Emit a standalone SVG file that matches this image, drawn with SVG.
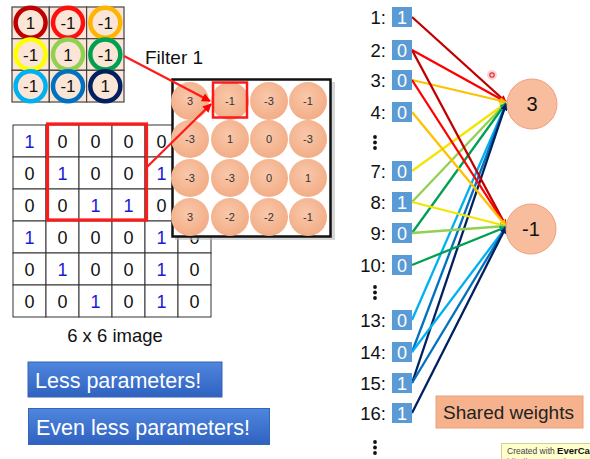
<svg xmlns="http://www.w3.org/2000/svg" width="590" height="459" viewBox="0 0 590 459">
<style>
  .t { font-family: "Liberation Sans", Arial, sans-serif; }
  .cell { fill: #fbe5d6; stroke: #444; stroke-width: 1.2; }
  .ring { fill: #fbe5d6; stroke-width: 4.5; }
  .ft { font-family: "Liberation Sans", Arial, sans-serif; font-size: 17px; fill: #111; text-anchor: middle; }
  .img { fill: #fff; stroke: #333; stroke-width: 1; }
  .it { font-family: "Liberation Sans", Arial, sans-serif; font-size: 18px; fill: #111; text-anchor: middle; }
  .it1 { fill: #1a1ad8; }
  .fm { fill: url(#peach); }
  .fmt { font-family: "Liberation Sans", Arial, sans-serif; font-size: 11px; fill: #333; text-anchor: middle; }
  .lab { font-family: "Liberation Sans", Arial, sans-serif; font-size: 18.5px; fill: #111; text-anchor: end; }
  .sq { fill: #5b9bd5; }
  .sqt { font-family: "Liberation Sans", Arial, sans-serif; font-size: 18px; fill: #fff; text-anchor: middle; }
  .node { fill: #f8bd9c; stroke: #f0a07c; stroke-width: 1; }
  .nt { font-family: "Liberation Sans", Arial, sans-serif; font-size: 20px; fill: #111; text-anchor: middle; }
  .btn { fill: url(#blue); stroke: #3565b5; stroke-width: 1; }
  .bt { font-family: "Liberation Sans", Arial, sans-serif; font-size: 21.5px; fill: #fff; }
  .e { fill: none; stroke-width: 2.3; }
  .dot { fill: #111; }
</style>
<defs>
  <radialGradient id="peach" cx="0.45" cy="0.4" r="0.6">
    <stop offset="0" stop-color="#f9c8ab"/>
    <stop offset="1" stop-color="#f2ad86"/>
  </radialGradient>
  <linearGradient id="blue" x1="0" y1="0" x2="0" y2="1">
    <stop offset="0" stop-color="#4f86de"/>
    <stop offset="1" stop-color="#2f62c0"/>
  </linearGradient>
  <marker id="m0" viewBox="0 0 10 10" refX="9" refY="5" markerWidth="4" markerHeight="4" orient="auto"><path d="M0,0L10,5L0,10z" fill="#ff0000"/></marker>
  <marker id="m1" viewBox="0 0 10 10" refX="9" refY="5" markerWidth="3" markerHeight="3" orient="auto"><path d="M0,0L10,5L0,10z" fill="#c00000"/></marker>
  <marker id="m2" viewBox="0 0 10 10" refX="9" refY="5" markerWidth="3" markerHeight="3" orient="auto"><path d="M0,0L10,5L0,10z" fill="#ff0000"/></marker>
  <marker id="m3" viewBox="0 0 10 10" refX="9" refY="5" markerWidth="3" markerHeight="3" orient="auto"><path d="M0,0L10,5L0,10z" fill="#ffc000"/></marker>
  <marker id="m4" viewBox="0 0 10 10" refX="9" refY="5" markerWidth="3" markerHeight="3" orient="auto"><path d="M0,0L10,5L0,10z" fill="#f2e600"/></marker>
  <marker id="m5" viewBox="0 0 10 10" refX="9" refY="5" markerWidth="3" markerHeight="3" orient="auto"><path d="M0,0L10,5L0,10z" fill="#92d050"/></marker>
  <marker id="m6" viewBox="0 0 10 10" refX="9" refY="5" markerWidth="3" markerHeight="3" orient="auto"><path d="M0,0L10,5L0,10z" fill="#00a050"/></marker>
  <marker id="m7" viewBox="0 0 10 10" refX="9" refY="5" markerWidth="3" markerHeight="3" orient="auto"><path d="M0,0L10,5L0,10z" fill="#00b0f0"/></marker>
  <marker id="m8" viewBox="0 0 10 10" refX="9" refY="5" markerWidth="3" markerHeight="3" orient="auto"><path d="M0,0L10,5L0,10z" fill="#0070c0"/></marker>
  <marker id="m9" viewBox="0 0 10 10" refX="9" refY="5" markerWidth="3" markerHeight="3" orient="auto"><path d="M0,0L10,5L0,10z" fill="#002060"/></marker>
</defs>
<rect width="590" height="459" fill="#fff"/>

<!-- Filter 1 -->
<g id="filter">
  <rect class="cell" x="12" y="7" width="37.3" height="31.7"/>
  <rect class="cell" x="49.3" y="7" width="37.3" height="31.7"/>
  <rect class="cell" x="86.6" y="7" width="37.4" height="31.7"/>
  <rect class="cell" x="12" y="38.7" width="37.3" height="31.6"/>
  <rect class="cell" x="49.3" y="38.7" width="37.3" height="31.6"/>
  <rect class="cell" x="86.6" y="38.7" width="37.4" height="31.6"/>
  <rect class="cell" x="12" y="70.3" width="37.3" height="31.7"/>
  <rect class="cell" x="49.3" y="70.3" width="37.3" height="31.7"/>
  <rect class="cell" x="86.6" y="70.3" width="37.4" height="31.7"/>
  <circle class="ring" cx="30.6" cy="22.8" r="15" stroke="#c00000"/>
  <circle class="ring" cx="68" cy="22.8" r="15" stroke="#ff1010"/>
  <circle class="ring" cx="105.3" cy="22.8" r="15" stroke="#ffb400"/>
  <circle class="ring" cx="30.6" cy="54.5" r="15" stroke="#ffff00"/>
  <circle class="ring" cx="68" cy="54.5" r="15" stroke="#92d050"/>
  <circle class="ring" cx="105.3" cy="54.5" r="15" stroke="#00a050"/>
  <circle class="ring" cx="30.6" cy="86.2" r="15" stroke="#00b0f0"/>
  <circle class="ring" cx="68" cy="86.2" r="15" stroke="#0070c0"/>
  <circle class="ring" cx="105.3" cy="86.2" r="15" stroke="#002060"/>
  <text class="ft" x="30.6" y="29">1</text>
  <text class="ft" x="68" y="29">-1</text>
  <text class="ft" x="105.3" y="29">-1</text>
  <text class="ft" x="30.6" y="60.7">-1</text>
  <text class="ft" x="68" y="60.7">1</text>
  <text class="ft" x="105.3" y="60.7">-1</text>
  <text class="ft" x="30.6" y="92.4">-1</text>
  <text class="ft" x="68" y="92.4">-1</text>
  <text class="ft" x="105.3" y="92.4">1</text>
</g>
<text class="t" x="145" y="64" font-size="19" fill="#111">Filter 1</text>

<!-- 6x6 image -->
<g id="image">
  <g>
    <rect class="img" x="13" y="125" width="33" height="32"/><rect class="img" x="46" y="125" width="33" height="32"/><rect class="img" x="79" y="125" width="33" height="32"/><rect class="img" x="112" y="125" width="33" height="32"/><rect class="img" x="145" y="125" width="33" height="32"/><rect class="img" x="178" y="125" width="33" height="32"/>
    <rect class="img" x="13" y="157" width="33" height="32"/><rect class="img" x="46" y="157" width="33" height="32"/><rect class="img" x="79" y="157" width="33" height="32"/><rect class="img" x="112" y="157" width="33" height="32"/><rect class="img" x="145" y="157" width="33" height="32"/><rect class="img" x="178" y="157" width="33" height="32"/>
    <rect class="img" x="13" y="189" width="33" height="32"/><rect class="img" x="46" y="189" width="33" height="32"/><rect class="img" x="79" y="189" width="33" height="32"/><rect class="img" x="112" y="189" width="33" height="32"/><rect class="img" x="145" y="189" width="33" height="32"/><rect class="img" x="178" y="189" width="33" height="32"/>
    <rect class="img" x="13" y="221" width="33" height="32"/><rect class="img" x="46" y="221" width="33" height="32"/><rect class="img" x="79" y="221" width="33" height="32"/><rect class="img" x="112" y="221" width="33" height="32"/><rect class="img" x="145" y="221" width="33" height="32"/><rect class="img" x="178" y="221" width="33" height="32"/>
    <rect class="img" x="13" y="253" width="33" height="32"/><rect class="img" x="46" y="253" width="33" height="32"/><rect class="img" x="79" y="253" width="33" height="32"/><rect class="img" x="112" y="253" width="33" height="32"/><rect class="img" x="145" y="253" width="33" height="32"/><rect class="img" x="178" y="253" width="33" height="32"/>
    <rect class="img" x="13" y="285" width="33" height="32"/><rect class="img" x="46" y="285" width="33" height="32"/><rect class="img" x="79" y="285" width="33" height="32"/><rect class="img" x="112" y="285" width="33" height="32"/><rect class="img" x="145" y="285" width="33" height="32"/><rect class="img" x="178" y="285" width="33" height="32"/>
  </g>
  <g>
    <text class="it it1" x="29.5" y="147.5">1</text><text class="it" x="62.5" y="147.5">0</text><text class="it" x="95.5" y="147.5">0</text><text class="it" x="128.5" y="147.5">0</text><text class="it" x="161.5" y="147.5">0</text>
    <text class="it" x="29.5" y="179.5">0</text><text class="it it1" x="62.5" y="179.5">1</text><text class="it" x="95.5" y="179.5">0</text><text class="it" x="128.5" y="179.5">0</text><text class="it it1" x="161.5" y="179.5">1</text>
    <text class="it" x="29.5" y="211.5">0</text><text class="it" x="62.5" y="211.5">0</text><text class="it it1" x="95.5" y="211.5">1</text><text class="it it1" x="128.5" y="211.5">1</text><text class="it" x="161.5" y="211.5">0</text>
    <text class="it it1" x="29.5" y="243.5">1</text><text class="it" x="62.5" y="243.5">0</text><text class="it" x="95.5" y="243.5">0</text><text class="it" x="128.5" y="243.5">0</text><text class="it it1" x="161.5" y="243.5">1</text><text class="it" x="194.5" y="243.5">0</text>
    <text class="it" x="29.5" y="275.5">0</text><text class="it it1" x="62.5" y="275.5">1</text><text class="it" x="95.5" y="275.5">0</text><text class="it" x="128.5" y="275.5">0</text><text class="it it1" x="161.5" y="275.5">1</text><text class="it" x="194.5" y="275.5">0</text>
    <text class="it" x="29.5" y="307.5">0</text><text class="it" x="62.5" y="307.5">0</text><text class="it it1" x="95.5" y="307.5">1</text><text class="it" x="128.5" y="307.5">0</text><text class="it it1" x="161.5" y="307.5">1</text><text class="it" x="194.5" y="307.5">0</text>
  </g>
  <rect x="47.5" y="124" width="99" height="96" fill="none" stroke="#ff1a1a" stroke-width="3.2"/>
</g>
<text class="t" x="115" y="342" font-size="18.5" fill="#111" text-anchor="middle">6 x 6 image</text>

<!-- Feature map -->
<g id="featuremap">
  <rect x="175" y="82" width="160" height="158" fill="#bbb" opacity="0.6"/>
  <rect x="172.5" y="79.5" width="158" height="157" fill="#fff" stroke="#111" stroke-width="2.5"/>
  <circle class="fm" cx="190" cy="101" r="19"/><circle class="fm" cx="230" cy="101" r="19"/><circle class="fm" cx="269" cy="101" r="19"/><circle class="fm" cx="308" cy="101" r="19"/>
  <circle class="fm" cx="190" cy="139" r="19"/><circle class="fm" cx="230" cy="139" r="19"/><circle class="fm" cx="269" cy="139" r="19"/><circle class="fm" cx="308" cy="139" r="19"/>
  <circle class="fm" cx="190" cy="178" r="19"/><circle class="fm" cx="230" cy="178" r="19"/><circle class="fm" cx="269" cy="178" r="19"/><circle class="fm" cx="308" cy="178" r="19"/>
  <circle class="fm" cx="190" cy="217" r="19"/><circle class="fm" cx="230" cy="217" r="19"/><circle class="fm" cx="269" cy="217" r="19"/><circle class="fm" cx="308" cy="217" r="19"/>
  <text class="fmt" x="190" y="105">3</text><text class="fmt" x="230" y="105">-1</text><text class="fmt" x="269" y="105">-3</text><text class="fmt" x="308" y="105">-1</text>
  <text class="fmt" x="190" y="143">-3</text><text class="fmt" x="230" y="143">1</text><text class="fmt" x="269" y="143">0</text><text class="fmt" x="308" y="143">-3</text>
  <text class="fmt" x="190" y="182">-3</text><text class="fmt" x="230" y="182">-3</text><text class="fmt" x="269" y="182">0</text><text class="fmt" x="308" y="182">1</text>
  <text class="fmt" x="190" y="221">3</text><text class="fmt" x="230" y="221">-2</text><text class="fmt" x="269" y="221">-2</text><text class="fmt" x="308" y="221">-1</text>
  <rect x="213" y="82.5" width="34" height="35" fill="none" stroke="#ff1a1a" stroke-width="2.5"/>
</g>

<!-- Left connectors -->
<g id="left-connectors" stroke="#ff1a1a" stroke-width="2.2" fill="none">
  <line x1="124" y1="56" x2="210" y2="101" marker-end="url(#m0)"/>
  <line x1="147" y1="167" x2="211" y2="104" marker-end="url(#m0)"/>
</g>

<!-- Buttons -->
<g id="btn-less">
  <rect class="btn" x="28" y="362" width="194" height="35"/>
  <text class="bt" x="35" y="387.5">Less parameters!</text>
</g>
<g id="btn-even">
  <rect class="btn" x="28.5" y="408.5" width="241" height="36"/>
  <text class="bt" x="36" y="434.5">Even less parameters!</text>
</g>

<!-- Right network connectors -->
<g id="connectors" class="e">
  <line class="e" x1="412" y1="17" x2="506" y2="102" stroke="#c00000" marker-end="url(#m1)"/>
  <line class="e" x1="412" y1="50" x2="506" y2="102" stroke="#ff0000" marker-end="url(#m2)"/>
  <line class="e" x1="412" y1="80" x2="506" y2="102" stroke="#ffc000" marker-end="url(#m3)"/>
  <line class="e" x1="412" y1="171" x2="506" y2="103" stroke="#f2e600" marker-end="url(#m4)"/>
  <line class="e" x1="412" y1="202" x2="506" y2="103" stroke="#92d050" marker-end="url(#m5)"/>
  <line class="e" x1="412" y1="233" x2="506" y2="103" stroke="#00a050" marker-end="url(#m6)"/>
  <line class="e" x1="412" y1="320" x2="506" y2="104" stroke="#00b0f0" marker-end="url(#m7)"/>
  <line class="e" x1="412" y1="352" x2="506" y2="104" stroke="#0070c0" marker-end="url(#m8)"/>
  <line class="e" x1="412" y1="383" x2="506" y2="104" stroke="#002060" marker-end="url(#m9)"/>

  <line class="e" x1="412" y1="50" x2="506" y2="226" stroke="#c00000" marker-end="url(#m1)"/>
  <line class="e" x1="412" y1="80" x2="506" y2="226" stroke="#ff0000" marker-end="url(#m2)"/>
  <line class="e" x1="412" y1="112" x2="506" y2="226" stroke="#ffc000" marker-end="url(#m3)"/>
  <line class="e" x1="412" y1="202" x2="506" y2="226" stroke="#f2e600" marker-end="url(#m4)"/>
  <line class="e" x1="412" y1="233" x2="506" y2="226" stroke="#92d050" marker-end="url(#m5)"/>
  <line class="e" x1="412" y1="265" x2="506" y2="227" stroke="#00a050" marker-end="url(#m6)"/>
  <line class="e" x1="412" y1="352" x2="506" y2="227" stroke="#00b0f0" marker-end="url(#m7)"/>
  <line class="e" x1="412" y1="383" x2="506" y2="227" stroke="#0070c0" marker-end="url(#m8)"/>
  <line class="e" x1="412" y1="413" x2="506" y2="227" stroke="#002060" marker-end="url(#m9)"/>
</g>

<!-- Inputs -->
<g id="in1"><text class="lab" x="386" y="24">1:</text><rect class="sq" x="392" y="7" width="20" height="20"/><text class="sqt" x="402" y="23.5">1</text></g>
<g id="in2"><text class="lab" x="386" y="57">2:</text><rect class="sq" x="392" y="40" width="20" height="20"/><text class="sqt" x="402" y="56.5">0</text></g>
<g id="in3"><text class="lab" x="386" y="87">3:</text><rect class="sq" x="392" y="70" width="20" height="20"/><text class="sqt" x="402" y="86.5">0</text></g>
<g id="in4"><text class="lab" x="386" y="119">4:</text><rect class="sq" x="392" y="102" width="20" height="20"/><text class="sqt" x="402" y="118.5">0</text></g>
<g id="dots1"><circle class="dot" cx="375" cy="137" r="1.9"/><circle class="dot" cx="375" cy="142.5" r="1.9"/><circle class="dot" cx="375" cy="148" r="1.9"/></g>
<g id="in7"><text class="lab" x="386" y="178">7:</text><rect class="sq" x="392" y="161" width="20" height="20"/><text class="sqt" x="402" y="177.5">0</text></g>
<g id="in8"><text class="lab" x="386" y="209">8:</text><rect class="sq" x="392" y="192" width="20" height="20"/><text class="sqt" x="402" y="208.5">1</text></g>
<g id="in9"><text class="lab" x="386" y="240">9:</text><rect class="sq" x="392" y="223" width="20" height="20"/><text class="sqt" x="402" y="239.5">0</text></g>
<g id="in10"><text class="lab" x="386" y="272">10:</text><rect class="sq" x="392" y="255" width="20" height="20"/><text class="sqt" x="402" y="271.5">0</text></g>
<g id="dots2"><circle class="dot" cx="375" cy="287" r="1.9"/><circle class="dot" cx="375" cy="292.5" r="1.9"/><circle class="dot" cx="375" cy="298" r="1.9"/></g>
<g id="in13"><text class="lab" x="386" y="327">13:</text><rect class="sq" x="392" y="310" width="20" height="20"/><text class="sqt" x="402" y="326.5">0</text></g>
<g id="in14"><text class="lab" x="386" y="359">14:</text><rect class="sq" x="392" y="342" width="20" height="20"/><text class="sqt" x="402" y="358.5">0</text></g>
<g id="in15"><text class="lab" x="386" y="390">15:</text><rect class="sq" x="392" y="373" width="20" height="20"/><text class="sqt" x="402" y="389.5">1</text></g>
<g id="in16"><text class="lab" x="386" y="420">16:</text><rect class="sq" x="392" y="403" width="20" height="20"/><text class="sqt" x="402" y="419.5">1</text></g>
<g id="dots3"><circle class="dot" cx="375" cy="442" r="1.9"/><circle class="dot" cx="375" cy="447.5" r="1.9"/><circle class="dot" cx="375" cy="453" r="1.9"/></g>

<!-- Output nodes -->
<g id="node3"><circle class="node" cx="532" cy="104" r="25"/><text class="nt" x="532" y="111">3</text></g>
<g id="nodem1"><circle class="node" cx="531" cy="229" r="25"/><text class="nt" x="531" y="236">-1</text></g>

<!-- Shared weights -->
<g id="shared">
  <rect x="436" y="396" width="147" height="32" fill="#f5b28c" stroke="#eaa07a" stroke-width="1"/>
  <text class="t" x="443" y="419" font-size="19" fill="#222">Shared weights</text>
</g>

<!-- cursor marker -->
<circle cx="492" cy="75" r="5" fill="#ffc8c8" opacity="0.8"/>
<circle cx="492" cy="75" r="2.2" fill="none" stroke="#e03030" stroke-width="1.2"/>

<!-- watermark -->
<g id="watermark">
  <rect x="501.5" y="443.5" width="100" height="20" fill="#ffffcc" stroke="#cfcf9a" stroke-width="1"/>
  <text class="t" x="507" y="454" font-size="8.5" fill="#444">Created with <tspan font-weight="bold" fill="#111" font-size="9.5">EverCam</tspan></text>
  <text class="t" x="507" y="463" font-size="8" fill="#666">http://www.camdemy.com</text>
</g>
</svg>
